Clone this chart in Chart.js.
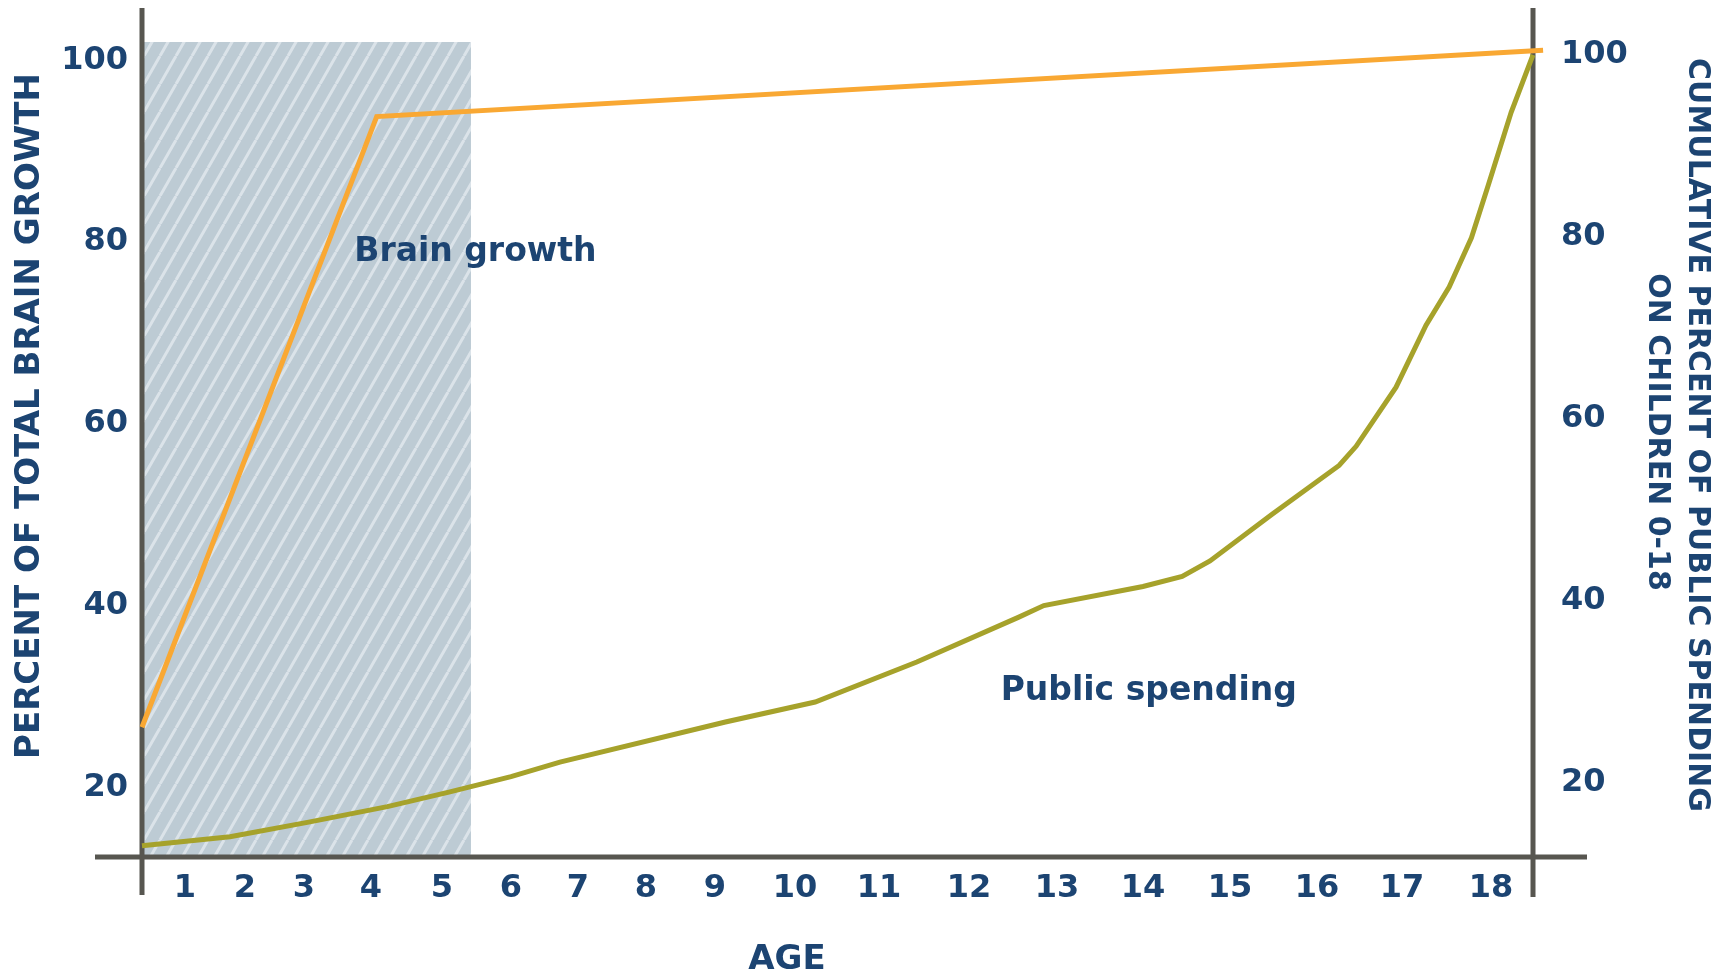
<!DOCTYPE html>
<html lang="en">
<head>
  <meta charset="UTF-8">
  <title>Brain growth vs public spending</title>
  <script src="https://cdn.jsdelivr.net/npm/chart.js@4.4.1/dist/chart.umd.min.js"></script>
  <style>
    html, body {
      margin: 0;
      padding: 0;
      background: #fff;
    }
    #wrap {
      width: 1731px;
      height: 975px;
    }
  </style>
</head>
<body>
  <div id="wrap">
    <canvas id="brainChart" width="1731" height="975"></canvas>
  </div>

  <script>
    // ---- data ----
    const ageTicks = [1, 2, 3, 4, 5, 6, 7, 8, 9, 10, 11, 12, 13, 14, 15, 16, 17, 18];
    const leftTicks = [20, 40, 60, 80, 100];
    const rightTicks = [20, 40, 60, 80, 100];

    // percent of total brain growth (left axis)
    const brainAge = [0, 4.08, 18.62];
    const brainPct = [26.6, 93.8, 101.1];

    // cumulative percent of public spending on children 0-18 (right axis)
    const spendAge = [0, 1.75, 3.07, 4.23, 5.1, 6.0, 6.73, 9.13, 10.24, 11.42, 12.56, 12.85,
                      14.0, 14.45, 14.77, 15.48, 16.26, 16.46, 16.93, 17.27, 17.53, 17.78, 17.97, 18.24, 18.5];
    const spendPct = [13.1, 14.1, 15.7, 17.4, 19.0, 20.7, 22.3, 26.7, 28.9, 33.3, 38.2, 39.5,
                      41.6, 42.7, 44.4, 49.5, 54.9, 57.0, 63.5, 70.3, 74.5, 79.9, 85.7, 93.7, 100];

    // shaded early-years band
    const earlyAge = [0, 5.42];
    const earlyTop = [102, 102];

    // text notes placed in data units (age, left-axis percent)
    const noteText = ['Brain growth', 'Public spending'];
    const noteAge = [3.75, 12.36];
    const notePct = [77.9, 29.6];

    // ---- look ----
    const NAVY = '#1c4472';
    const ORANGE = '#f9a833';
    const OLIVE = '#a6a22b';
    const AXIS = '#575650';
    const FONT = 'DejaVu Sans';

    // the age axis is not evenly spaced in the original: offsets (px) of each age along the axis
    const STOP_AGES = [0, 1, 2, 3, 4, 5, 6, 7, 8, 9, 10, 11, 12, 13, 14, 15, 16, 17, 18, 18.5];
    const STOP_PX = [0, 43, 103, 162, 229, 300, 369, 436, 504, 573, 653, 737, 827, 915, 1001, 1088, 1175, 1260, 1349, 1391];
    const STOP_LEN = STOP_PX[STOP_PX.length - 1];

    function ageToDecimal(a) {
      let i = 1;
      while (i < STOP_AGES.length - 1 && a > STOP_AGES[i]) i++;
      const t = (a - STOP_AGES[i - 1]) / (STOP_AGES[i] - STOP_AGES[i - 1]);
      return (STOP_PX[i - 1] + t * (STOP_PX[i] - STOP_PX[i - 1])) / STOP_LEN;
    }

    function decimalToAge(d) {
      const p = d * STOP_LEN;
      let i = 1;
      while (i < STOP_PX.length - 1 && p > STOP_PX[i]) i++;
      const t = (p - STOP_PX[i - 1]) / (STOP_PX[i] - STOP_PX[i - 1]);
      return STOP_AGES[i - 1] + t * (STOP_AGES[i] - STOP_AGES[i - 1]);
    }

    class AgeScale extends Chart.LinearScale {
      getPixelForValue(value) {
        if (value === null || value === undefined) return NaN;
        return this.getPixelForDecimal(ageToDecimal(value));
      }
      getValueForPixel(pixel) {
        return decimalToAge(this.getDecimalForPixel(pixel));
      }
    }
    AgeScale.id = 'age';
    AgeScale.defaults = Chart.LinearScale.defaults;
    Chart.register(AgeScale);

    function hatchPattern() {
      const w = 16, h = 28;
      const c = document.createElement('canvas');
      c.width = w;
      c.height = h;
      const g = c.getContext('2d');
      g.fillStyle = '#bdcbd4';
      g.fillRect(0, 0, w, h);
      g.strokeStyle = '#dbe3e9';
      g.lineWidth = 3;
      g.beginPath();
      for (const dx of [-w, 0, w]) {
        g.moveTo(dx, h);
        g.lineTo(dx + w, 0);
      }
      g.stroke();
      return g.createPattern(c, 'repeat');
    }

    const toPoints = (xs, ys) => xs.map((x, i) => ({ x: x, y: ys[i] }));
    const tickFont = { family: FONT, weight: 'bold', size: 32 };

    // axis lines (drawn right after the shaded band) and the free text
    const frame = {
      id: 'frame',
      afterDatasetDraw(chart, args) {
        if (args.index !== 2) return;
        const ctx = chart.ctx;
        const a = chart.chartArea;
        ctx.save();
        ctx.strokeStyle = AXIS;
        ctx.lineWidth = 5;
        ctx.beginPath();
        ctx.moveTo(a.left - 47, a.bottom);
        ctx.lineTo(a.right + 54, a.bottom);
        ctx.moveTo(a.left, a.top);
        ctx.lineTo(a.left, a.bottom + 38);
        ctx.moveTo(a.right, a.top);
        ctx.lineTo(a.right, a.bottom + 40);
        ctx.stroke();
        ctx.restore();
      },
      afterDraw(chart) {
        const ctx = chart.ctx;
        const x = chart.scales.x;
        const yL = chart.scales.yL;
        ctx.save();
        ctx.fillStyle = NAVY;

        // notes
        ctx.font = 'bold 33px "' + FONT + '"';
        ctx.textAlign = 'left';
        ctx.textBaseline = 'alphabetic';
        noteText.forEach((t, i) => {
          ctx.fillText(t, x.getPixelForValue(noteAge[i]), yL.getPixelForValue(notePct[i]));
        });

        // x title
        ctx.textAlign = 'center';
        ctx.textBaseline = 'middle';
        ctx.font = 'bold 34px "' + FONT + '"';
        ctx.fillText('AGE', 787, 960);

        // left title
        ctx.save();
        ctx.translate(30, 416);
        ctx.rotate(-Math.PI / 2);
        ctx.fillText('PERCENT OF TOTAL BRAIN GROWTH', 0, 0);
        ctx.restore();

        // right title, two lines
        ctx.font = 'bold 30px "' + FONT + '"';
        ctx.save();
        ctx.translate(1697, 435);
        ctx.rotate(Math.PI / 2);
        ctx.fillText('CUMULATIVE PERCENT OF PUBLIC SPENDING', 0, 0);
        ctx.restore();
        ctx.save();
        ctx.translate(1657, 432);
        ctx.rotate(Math.PI / 2);
        ctx.fillText('ON CHILDREN 0-18', 0, 0);
        ctx.restore();

        ctx.restore();
      }
    };

    const fixSize = (prop, size) => (scale) => {
      scale[prop] = size;
      scale.paddingTop = 0;
      scale.paddingBottom = 0;
      scale.paddingLeft = 0;
      scale.paddingRight = 0;
    };

    const ctx = document.getElementById('brainChart').getContext('2d');
    new Chart(ctx, {
      type: 'line',
      data: {
        datasets: [
          {
            label: 'Public spending',
            data: toPoints(spendAge, spendPct),
            yAxisID: 'yR',
            borderColor: OLIVE,
            borderWidth: 5,
            pointRadius: 0,
            tension: 0,
            fill: false,
            clip: false
          },
          {
            label: 'Brain growth',
            data: toPoints(brainAge, brainPct),
            yAxisID: 'yL',
            borderColor: ORANGE,
            borderWidth: 5,
            pointRadius: 0,
            tension: 0,
            fill: false,
            clip: false
          },
          {
            label: 'Early years',
            data: toPoints(earlyAge, earlyTop),
            yAxisID: 'yL',
            borderWidth: 0,
            pointRadius: 0,
            tension: 0,
            fill: 'start',
            backgroundColor: hatchPattern()
          }
        ]
      },
      options: {
        responsive: false,
        animation: false,
        devicePixelRatio: 1,
        events: [],
        layout: { padding: { top: 8, left: 0, right: 0, bottom: 0 } },
        plugins: {
          legend: { display: false },
          tooltip: { enabled: false }
        },
        scales: {
          x: {
            type: 'age',
            position: 'bottom',
            min: 0,
            max: 18.5,
            grid: { display: false, drawTicks: false },
            border: { display: false },
            ticks: {
              color: NAVY,
              font: tickFont,
              padding: 12,
              autoSkip: false,
              maxRotation: 0,
              callback: (v) => String(v)
            },
            afterBuildTicks: (s) => { s.ticks = ageTicks.map((v) => ({ value: v })); },
            afterFit: fixSize('height', 118)
          },
          yL: {
            type: 'linear',
            position: 'left',
            min: 12.32,
            max: 105.75,
            grid: { display: false, drawTicks: false },
            border: { display: false },
            ticks: { color: NAVY, font: tickFont, padding: 14, callback: (v) => String(v) },
            afterBuildTicks: (s) => { s.ticks = leftTicks.map((v) => ({ value: v })); },
            afterFit: fixSize('width', 142)
          },
          yR: {
            type: 'linear',
            position: 'right',
            min: 11.87,
            max: 105.16,
            grid: { display: false, drawTicks: false },
            border: { display: false },
            ticks: { color: NAVY, font: tickFont, padding: 28, callback: (v) => String(v) },
            afterBuildTicks: (s) => { s.ticks = rightTicks.map((v) => ({ value: v })); },
            afterFit: fixSize('width', 198)
          }
        }
      },
      plugins: [frame]
    });
  </script>
</body>
</html>
